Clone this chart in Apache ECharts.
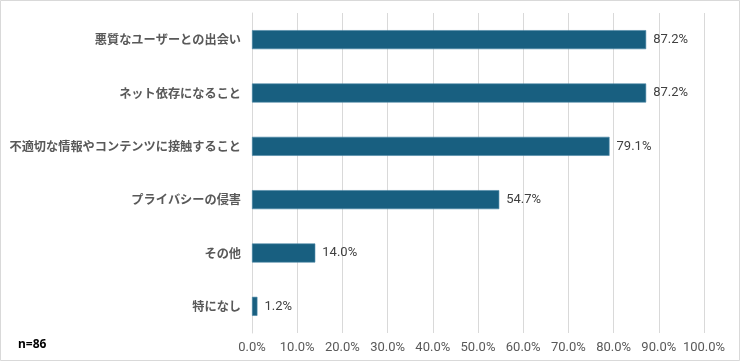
<!DOCTYPE html>
<html><head><meta charset="utf-8">
<script src="https://cdn.jsdelivr.net/npm/echarts@6/dist/echarts.min.js"></script>
<style>html,body{margin:0;padding:0;background:#fff}#c{width:740px;height:362px}</style>
</head><body><div id="c"></div>
<script>
const categories = ['悪質なユーザーとの出会い','ネット依存になること','不適切な情報やコンテンツに接触すること','プライバシーの侵害','その他','特になし'];
const values = [87.2, 87.2, 79.1, 54.7, 14.0, 1.2];
const sampleNote = 'n=86';

const chart = echarts.init(document.getElementById('c'));
chart.setOption({
  animation: false,
  backgroundColor: '#fff',
  graphic: [
    {type:'rect', shape:{x:0.5,y:0.5,width:739,height:360}, style:{fill:'none', stroke:'#d9d9d9', lineWidth:1}},
    {type:'text', left:18, top:339, style:{text:sampleNote, font:'bold 12px "Noto Sans", sans-serif', fill:'#000'}}
  ],
  grid: {left:252, right:36, top:13, bottom:29, containLabel:false},
  xAxis: {
    type:'value', min:0, max:100, interval:10,
    axisLine:{show:false}, axisTick:{show:false},
    splitLine:{show:true, lineStyle:{color:'#d9d9d9', width:1}},
    axisLabel:{formatter: v => v.toFixed(1)+'%', color:'#595959', fontSize:13, fontFamily:'Roboto, sans-serif', margin:8}
  },
  yAxis: {
    type:'category', data:categories, inverse:true,
    axisLine:{show:true, lineStyle:{color:'#d9d9d9'}}, axisTick:{show:false},
    axisLabel:{color:'#595959', fontSize:12.2, fontWeight:'bold', fontFamily:'"Noto Sans CJK JP", sans-serif', margin:11}
  },
  series: [{
    type:'bar', data:values, barWidth:19,
    itemStyle:{color:'#185f80', borderColor:'#4a87a6', borderWidth:0.6},
    label:{show:true, position:'right', distance:7, formatter: p => p.value.toFixed(1)+'%', color:'#404040', fontSize:13, fontFamily:'Roboto, sans-serif'}
  }]
});
</script></body></html>
